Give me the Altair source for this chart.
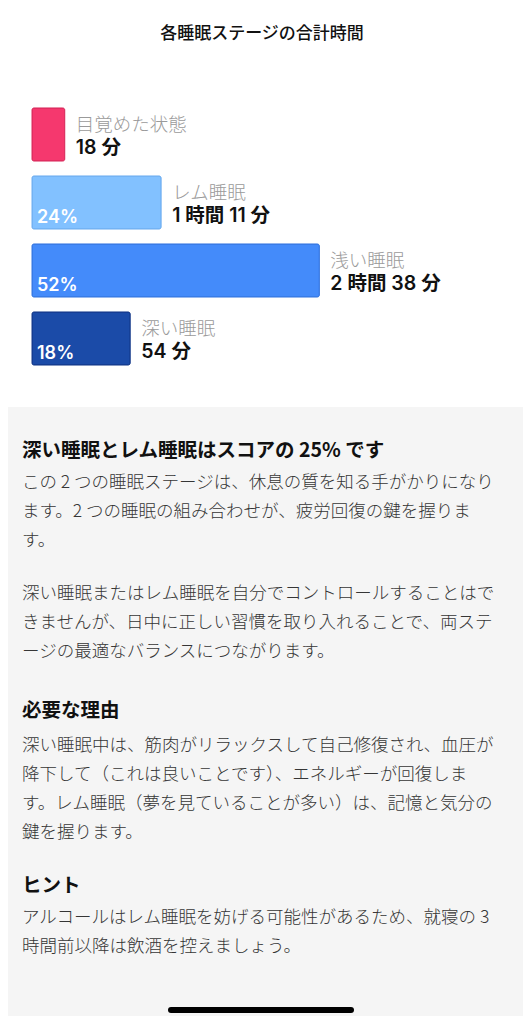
import altair as alt
import pandas as pd

# ---- data ----
stages = ["目覚めた状態", "レム睡眠", "浅い睡眠", "深い睡眠"]
minutes = [18, 71, 158, 54]
durations = ["18 分", "1 時間 11 分", "2 時間 38 分", "54 分"]
percents = ["", "24%", "52%", "18%"]
fill_colors = ["#F5386E", "#82C1FF", "#448BFA", "#1B4BA8"]
stroke_colors = ["#D92A5C", "#6FAEF0", "#3576E0", "#14398A"]

chart_title = "各睡眠ステージの合計時間"

heading1 = "深い睡眠とレム睡眠はスコアの 25% です"
body1 = ["この 2 つの睡眠ステージは、休息の質を知る手がかりになり",
         "ます。2 つの睡眠の組み合わせが、疲労回復の鍵を握りま",
         "す。"]
body2 = ["深い睡眠またはレム睡眠を自分でコントロールすることはで",
         "きませんが、日中に正しい習慣を取り入れることで、両ステ",
         "ージの最適なバランスにつながります。"]
heading2 = "必要な理由"
body3 = ["深い睡眠中は、筋肉がリラックスして自己修復され、血圧が",
         "降下して（これは良いことです）、エネルギーが回復しま",
         "す。レム睡眠（夢を見ていることが多い）は、記憶と気分の",
         "鍵を握ります。"]
heading3 = "ヒント"
body4 = ["アルコールはレム睡眠を妨げる可能性があるため、就寝の 3",
         "時間前以降は飲酒を控えましょう。"]

df = pd.DataFrame({
    "stage": stages,
    "minutes": minutes,
    "duration": durations,
    "percent": percents,
})
one = pd.DataFrame({"k": [0]})

W, H = 515, 1008
FONT = "Noto Sans CJK JP"
MIXFONT = "Inter, Noto Sans CJK JP"

xscale = alt.Scale(domain=[0, 158], range=[24, 315])
yscale = alt.Scale(domain=stages, range=[92.5, 364.5], paddingInner=0.22, paddingOuter=0.11)
X = alt.X("minutes:Q", scale=xscale, axis=None)
Y = alt.Y("stage:N", scale=yscale, axis=None, sort=stages)

base = alt.Chart(df)

bars = base.mark_bar(cornerRadius=2, strokeWidth=1).encode(
    x=X, y=Y,
    color=alt.Color("stage:N", scale=alt.Scale(domain=stages, range=fill_colors), legend=None),
    stroke=alt.Stroke("stage:N", scale=alt.Scale(domain=stages, range=stroke_colors), legend=None),
)

names = base.mark_text(align="left", baseline="middle", dx=11, dy=-10, font=FONT,
                       fontSize=18.5, fontWeight=300, color="#9A9A9A").encode(x=X, y=Y, text="stage:N")
durs = base.mark_text(align="left", baseline="middle", dx=11, dy=13, font=MIXFONT,
                      fontSize=19.5, fontWeight=600, color="#111111").encode(x=X, y=Y, text="duration:N")
pcts = base.mark_text(align="left", baseline="middle", dx=5, dy=15, font=MIXFONT,
                      fontSize=18, fontWeight=600, color="white").encode(
    x=alt.datum(0), y=Y, text="percent:N")

title_t = alt.Chart(one).mark_text(text=chart_title, align="center", baseline="middle", font=FONT,
                                   fontSize=17, fontWeight=500, color="#111111").encode(
    x=alt.value(254), y=alt.value(26))

panel = alt.Chart(one).mark_rect(color="#F5F5F5").encode(
    x=alt.value(0), x2=alt.value(W), y=alt.value(399), y2=alt.value(H))

def block(lines, y, size, weight, color):
    return alt.Chart(one).mark_text(text=lines, align="left", baseline="alphabetic", font=FONT,
                                    fontSize=size, fontWeight=weight, color=color,
                                    lineHeight=29).encode(x=alt.value(14), y=alt.value(y))

HEAD, BODY = "#111111", "#363636"
blocks = [
    block(heading1, 449, 19.5, "bold", HEAD),
    block(body1, 480, 17.5, 300, BODY),
    block(body2, 591, 17.5, 300, BODY),
    block(heading2, 709, 19.5, "bold", HEAD),
    block(body3, 743, 17.5, 300, BODY),
    block(heading3, 884, 19.5, "bold", HEAD),
    block(body4, 915, 17.5, 300, BODY),
]

home = alt.Chart(one).mark_rule(strokeWidth=6, strokeCap="round", color="black").encode(
    x=alt.value(163), x2=alt.value(343), y=alt.value(1002))

chart = alt.layer(panel, title_t, bars, names, durs, pcts, *blocks, home).properties(
    width=W, height=H, padding=0, autosize="none", background="white"
).configure_view(stroke=None)

chart.save("out.html", embed_options={"renderer": "svg", "actions": False})
